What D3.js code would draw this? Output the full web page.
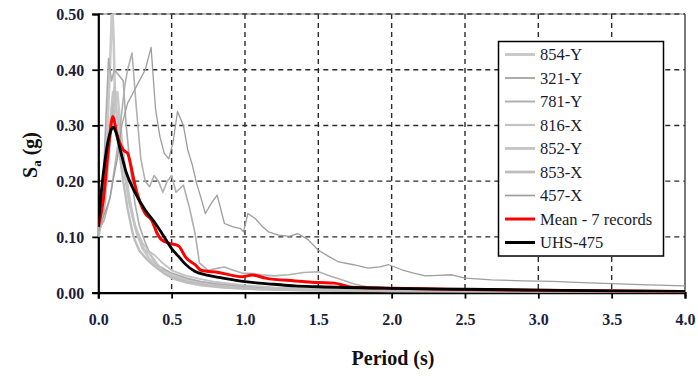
<!DOCTYPE html>
<html>
<head>
<meta charset="utf-8">
<script src="https://cdn.jsdelivr.net/npm/d3@7"></script>
<style>
  html, body { margin: 0; padding: 0; background: #fff; }
  svg { display: block; }
  text { font-family: "Liberation Serif", "Times New Roman", serif; }
</style>
</head>
<body>
<svg id="chart" width="698" height="376"></svg>
<script>
// ---- Spectral acceleration of the selected records (period in s, Sa in g) ----
const rec854Y_T  = [0, 0.03, 0.06, 0.08, 0.095, 0.105, 0.115, 0.13, 0.15, 0.18, 0.21, 0.25, 0.3, 0.35, 0.4, 0.5, 0.6, 0.7, 0.85, 1.0, 1.25, 1.5, 2.0, 2.5, 3.0, 4.0];
const rec854Y_Sa = [0.11, 0.17, 0.28, 0.41, 0.52, 0.45, 0.34, 0.36, 0.3, 0.22, 0.17, 0.12, 0.08, 0.06, 0.048, 0.032, 0.024, 0.018, 0.013, 0.01, 0.007, 0.005, 0.003, 0.002, 0.0015, 0.001];

const rec321Y_T  = [0, 0.03, 0.05, 0.07, 0.09, 0.11, 0.14, 0.17, 0.19, 0.22, 0.25, 0.28, 0.32, 0.36, 0.4, 0.45, 0.5, 0.6, 0.7, 0.8, 1.0, 1.2, 1.5, 2.0, 2.5, 3.0, 3.5, 4.0];
const rec321Y_Sa = [0.11, 0.18, 0.3, 0.42, 0.38, 0.4, 0.39, 0.38, 0.3, 0.22, 0.16, 0.12, 0.09, 0.065, 0.05, 0.042, 0.035, 0.026, 0.02, 0.016, 0.011, 0.008, 0.006, 0.004, 0.003, 0.0025, 0.002, 0.0015];

const rec781Y_T  = [0, 0.04, 0.08, 0.12, 0.15, 0.18, 0.2, 0.23, 0.26, 0.29, 0.32, 0.35, 0.38, 0.41, 0.44, 0.47, 0.5, 0.53, 0.58, 0.62, 0.66, 0.69, 0.75, 0.8, 0.86, 0.92, 0.98, 1.05, 1.11, 1.2, 1.3, 1.4, 1.5, 1.58, 1.66, 1.75, 1.84, 2.0, 2.3, 2.6, 3.0, 3.5, 4.0];
const rec781Y_Sa = [0.11, 0.13, 0.17, 0.24, 0.3, 0.37, 0.4, 0.43, 0.33, 0.24, 0.2, 0.19, 0.21, 0.2, 0.18, 0.2, 0.21, 0.18, 0.193, 0.154, 0.106, 0.053, 0.04, 0.043, 0.046, 0.04, 0.035, 0.034, 0.032, 0.03, 0.032, 0.036, 0.0375, 0.03, 0.023, 0.015, 0.01, 0.008, 0.007, 0.006, 0.005, 0.004, 0.003];

const rec816X_T  = [0, 0.04, 0.07, 0.09, 0.11, 0.13, 0.15, 0.18, 0.21, 0.25, 0.3, 0.34, 0.38, 0.43, 0.5, 0.6, 0.7, 0.8, 1.0, 1.2, 1.5, 2.0, 2.5, 3.0, 4.0];
const rec816X_Sa = [0.11, 0.16, 0.25, 0.33, 0.37, 0.31, 0.28, 0.21, 0.16, 0.12, 0.09, 0.075, 0.068, 0.055, 0.04, 0.03, 0.024, 0.019, 0.013, 0.0095, 0.007, 0.005, 0.0035, 0.0025, 0.0015];

const rec852Y_T  = [0, 0.05, 0.08, 0.1, 0.12, 0.14, 0.17, 0.2, 0.23, 0.27, 0.31, 0.35, 0.4, 0.45, 0.5, 0.6, 0.7, 0.85, 1.0, 1.3, 1.6, 2.0, 3.0, 4.0];
const rec852Y_Sa = [0.1, 0.2, 0.3, 0.36, 0.33, 0.3, 0.25, 0.19, 0.14, 0.1, 0.078, 0.07, 0.052, 0.035, 0.026, 0.018, 0.013, 0.009, 0.007, 0.005, 0.004, 0.003, 0.002, 0.001];

const rec853X_T  = [0, 0.04, 0.07, 0.1, 0.12, 0.14, 0.17, 0.2, 0.24, 0.28, 0.33, 0.38, 0.45, 0.5, 0.6, 0.75, 0.9, 1.1, 1.4, 1.8, 2.5, 3.0, 4.0];
const rec853X_Sa = [0.1, 0.15, 0.24, 0.34, 0.29, 0.26, 0.2, 0.15, 0.1, 0.075, 0.06, 0.048, 0.034, 0.028, 0.02, 0.013, 0.009, 0.006, 0.004, 0.003, 0.002, 0.0015, 0.001];

const rec457X_T  = [0, 0.04, 0.08, 0.1, 0.13, 0.16, 0.2, 0.24, 0.28, 0.32, 0.36, 0.39, 0.42, 0.45, 0.48, 0.51, 0.54, 0.58, 0.61, 0.64, 0.67, 0.7, 0.73, 0.77, 0.81, 0.86, 0.92, 0.97, 0.99, 1.02, 1.07, 1.12, 1.16, 1.23, 1.3, 1.36, 1.43, 1.5, 1.57, 1.64, 1.74, 1.84, 1.92, 1.98, 2.07, 2.15, 2.23, 2.32, 2.41, 2.5, 2.68, 2.9, 3.1, 3.3, 3.5, 3.75, 4.0];
const rec457X_Sa = [0.11, 0.14, 0.17, 0.2, 0.24, 0.3, 0.34, 0.36, 0.38, 0.4, 0.44, 0.33, 0.28, 0.25, 0.24, 0.27, 0.325, 0.3, 0.256, 0.23, 0.196, 0.17, 0.142, 0.16, 0.175, 0.124, 0.118, 0.115, 0.109, 0.142, 0.133, 0.118, 0.109, 0.103, 0.101, 0.106, 0.095, 0.076, 0.065, 0.055, 0.05, 0.044, 0.046, 0.05, 0.041, 0.035, 0.03, 0.031, 0.032, 0.026, 0.023, 0.021, 0.02, 0.018, 0.016, 0.014, 0.012];

// Mean of the 7 records
const mean_T  = [0, 0.034, 0.068, 0.1, 0.125, 0.17, 0.2, 0.22, 0.25, 0.32, 0.364, 0.4, 0.43, 0.49, 0.545, 0.6, 0.66, 0.7, 0.82, 0.98, 1.05, 1.14, 1.34, 1.5, 1.61, 1.73, 2.0, 2.5, 3.0, 3.5, 4.0];
const mean_Sa = [0.118, 0.166, 0.256, 0.316, 0.286, 0.256, 0.25, 0.23, 0.193, 0.142, 0.13, 0.107, 0.095, 0.088, 0.084, 0.062, 0.05, 0.04, 0.036, 0.0285, 0.0315, 0.026, 0.021, 0.018, 0.017, 0.0095, 0.0077, 0.0055, 0.004, 0.003, 0.002];

// Uniform hazard spectrum, 475-year return period
const uhs_T  = [0, 0.02, 0.046, 0.068, 0.085, 0.102, 0.12, 0.148, 0.19, 0.25, 0.32, 0.387, 0.43, 0.5, 0.557, 0.59, 0.66, 0.75, 0.86, 1.0, 1.2, 1.34, 1.5, 2.0, 2.5, 3.0, 3.5, 4.0];
const uhs_Sa = [0.118, 0.18, 0.238, 0.274, 0.29, 0.297, 0.288, 0.258, 0.216, 0.18, 0.148, 0.125, 0.108, 0.079, 0.062, 0.052, 0.038, 0.031, 0.0255, 0.0196, 0.015, 0.012, 0.0105, 0.0077, 0.006, 0.0045, 0.003, 0.002];

// Legend labels and axis ticks
const recordNames = ["854-Y", "321-Y", "781-Y", "816-X", "852-Y", "853-X", "457-X"];
const meanName = "Mean - 7 records";
const uhsName = "UHS-475";
const xTicks = [0, 0.5, 1.0, 1.5, 2.0, 2.5, 3.0, 3.5, 4.0];
const yTicks = [0, 0.1, 0.2, 0.3, 0.4, 0.5];

const recordPeriods = [rec854Y_T, rec321Y_T, rec781Y_T, rec816X_T, rec852Y_T, rec853X_T, rec457X_T];
const recordValues  = [rec854Y_Sa, rec321Y_Sa, rec781Y_Sa, rec816X_Sa, rec852Y_Sa, rec853X_Sa, rec457X_Sa];
// stroke colour / width per record
const recordStyle = [
  {c: "#c9c9c9", w: 2.6},
  {c: "#ababab", w: 1.6},
  {c: "#b0b0b0", w: 1.6},
  {c: "#c2c2c2", w: 1.8},
  {c: "#c4c4c4", w: 2.4},
  {c: "#bdbdbd", w: 2.4},
  {c: "#9d9d9d", w: 1.3}
];

const svg = d3.select("#chart");
const m = {left: 98.3, right: 685, top: 14, bottom: 292.6};

const x = d3.scaleLinear().domain([0, 4]).range([m.left, m.right]);
const y = d3.scaleLinear().domain([0, 0.5]).range([m.bottom, m.top]);

svg.append("defs").append("clipPath").attr("id", "plotClip")
  .append("rect").attr("x", m.left).attr("y", m.top)
  .attr("width", m.right - m.left).attr("height", m.bottom - m.top);

// dashed grid
const grid = svg.append("g");
grid.selectAll("line.v").data(xTicks.filter(d => d > 0 && d < 4)).join("line")
  .attr("x1", d => x(d)).attr("x2", d => x(d))
  .attr("y1", m.top).attr("y2", m.bottom)
  .attr("stroke", "#2a2a2a").attr("stroke-width", 1.4).attr("stroke-dasharray", "5,4");
grid.selectAll("line.h").data(yTicks.filter(d => d > 0)).join("line")
  .attr("x1", m.left).attr("x2", m.right)
  .attr("y1", d => y(d)).attr("y2", d => y(d))
  .attr("stroke", "#2a2a2a").attr("stroke-width", 1.4).attr("stroke-dasharray", "5,4");

// frame: right border
svg.append("line").attr("x1", m.right).attr("x2", m.right).attr("y1", m.top).attr("y2", m.bottom)
  .attr("stroke", "#333").attr("stroke-width", 1.3);
svg.append("line").attr("x1", m.left).attr("x2", m.right).attr("y1", m.top).attr("y2", m.top)
  .attr("stroke", "#555").attr("stroke-width", 0.8);

// axes
const yAxis = d3.axisLeft(y).tickValues(yTicks).tickFormat(d3.format(".2f")).tickSize(6).tickPadding(8);
const xAxis = d3.axisBottom(x).tickValues(xTicks).tickFormat(d3.format(".1f")).tickSize(6).tickPadding(15);

const gy = svg.append("g").attr("transform", `translate(${m.left},0)`).call(yAxis);
const gx = svg.append("g").attr("transform", `translate(0,${m.bottom})`).call(xAxis);
[gx, gy].forEach(g => {
  g.select(".domain").attr("stroke", "#000").attr("stroke-width", 2.2);
  g.selectAll(".tick line").attr("stroke", "#000").attr("stroke-width", 1.8);
  g.selectAll(".tick text")
    .attr("font-family", "'Liberation Serif', serif")
    .attr("font-weight", "bold").attr("font-size", 16).attr("fill", "#1c1c3c");
});
gy.selectAll(".tick text").attr("dy", "0.34em");

// curves
const line = d3.line().x(d => x(d[0])).y(d => y(d[1]));
const smooth = d3.line().x(d => x(d[0])).y(d => y(d[1])).curve(d3.curveMonotoneX);
const plot = svg.append("g").attr("clip-path", "url(#plotClip)");

recordPeriods.forEach((T, i) => {
  plot.append("path")
    .datum(T.map((t, k) => [t, recordValues[i][k]]))
    .attr("d", line)
    .attr("fill", "none")
    .attr("stroke", recordStyle[i].c)
    .attr("stroke-width", recordStyle[i].w)
    .attr("stroke-linejoin", "round");
});

plot.append("path")
  .datum(mean_T.map((t, k) => [t, mean_Sa[k]]))
  .attr("d", smooth).attr("fill", "none")
  .attr("stroke", "#ff0000").attr("stroke-width", 3).attr("stroke-linejoin", "round");

plot.append("path")
  .datum(uhs_T.map((t, k) => [t, uhs_Sa[k]]))
  .attr("d", smooth).attr("fill", "none")
  .attr("stroke", "#000").attr("stroke-width", 2.8).attr("stroke-linejoin", "round");

// axis titles
svg.append("text")
  .attr("x", 393).attr("y", 365)
  .attr("text-anchor", "middle")
  .attr("font-weight", "bold").attr("font-size", 20).attr("fill", "#111")
  .text("Period (s)");

const yt = svg.append("text")
  .attr("transform", "translate(37,155) rotate(-90)")
  .attr("text-anchor", "middle")
  .attr("font-weight", "bold").attr("font-size", 20).attr("fill", "#111");
yt.append("tspan").text("S");
yt.append("tspan").attr("font-size", 13).attr("dy", 4).text("a");
yt.append("tspan").attr("dy", -4).text(" (g)");

// legend
const legend = svg.append("g");
legend.append("rect")
  .attr("x", 498.5).attr("y", 41.5).attr("width", 165).attr("height", 214.5)
  .attr("fill", "#fff").attr("stroke", "#000").attr("stroke-width", 1.5);

const legendItems = recordNames.map((n, i) => ({name: n, c: recordStyle[i].c, w: recordStyle[i].w + 0.4}))
  .concat([{name: meanName, c: "#ff0000", w: 3}, {name: uhsName, c: "#000", w: 3}]);

const rowY = d3.scaleLinear().domain([0, legendItems.length - 1]).range([54.5, 242.5]);
const rows = legend.selectAll("g.row").data(legendItems).join("g")
  .attr("transform", (d, i) => `translate(0,${rowY(i)})`);
rows.append("line").attr("x1", 505).attr("x2", 535).attr("y1", 0).attr("y2", 0)
  .attr("stroke", d => d.c).attr("stroke-width", d => d.w);
rows.append("text").attr("x", 540).attr("y", 0).attr("dy", "0.35em")
  .attr("font-size", 16.5).attr("fill", "#1a1a2e")
  .text(d => d.name);
</script>
</body>
</html>
